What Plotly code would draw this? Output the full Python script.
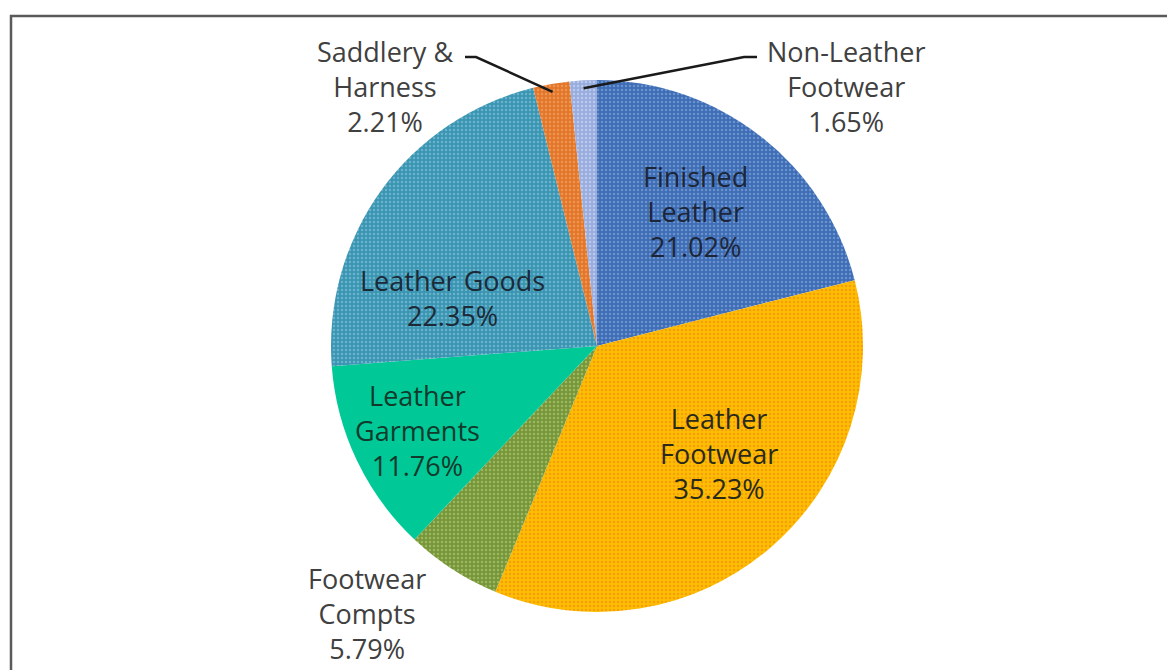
import math
import plotly.graph_objects as go

# Export share by product category (%), clockwise from 12 o'clock
categories = ["Finished Leather", "Leather Footwear", "Footwear Compts",
              "Leather Garments", "Leather Goods", "Saddlery & Harness",
              "Non-Leather Footwear"]
shares = [21.02, 35.23, 5.79, 11.76, 22.35, 2.21, 1.65]
label_lines = [["Finished", "Leather"], ["Leather", "Footwear"], ["Footwear", "Compts"],
               ["Leather", "Garments"], ["Leather Goods"], ["Saddlery &", "Harness"],
               ["Non-Leather", "Footwear"]]

colors = ["#3F6DB5", "#FDBE00", "#76963A", "#00C997", "#3A95B2", "#E2762A", "#98ACDD"]
dot_colors = ["#6F98D2", "#F39A10", "#A2BC62", "#00C997", "#6FB6CF", "#F09A55", "#C0CDEE"]
dot_shapes = [".", ".", ".", "", ".", ".", "."]

W, H = 1167, 670
CX, CY, R = 597, 346, 266  # pie centre and radius in pixels

# label centres (pixels); the two thin top slices get leader lines
label_pos = [(695, 212), (719, 453), (367, 613), (417, 430), (452, 298), (385, 87), (846, 86)]
label_color = ["#1C2638", "#2A2A1A", "#404040", "#123A2C", "#1C2A38", "#404040", "#404040"]
leaders = {5: (465, 57, 476), 6: (757, 57, 744)}  # label-side start x, y, elbow x

fig = go.Figure(go.Pie(
    labels=categories,
    values=shares,
    sort=False,
    direction="clockwise",
    rotation=0,
    textinfo="none",
    hoverinfo="label+percent",
    marker=dict(colors=colors, line=dict(width=0),
                pattern=dict(shape=dot_shapes, bgcolor=colors, fgcolor=dot_colors,
                             fgopacity=0.9, size=4, solidity=0.3)),
    domain=dict(x=[(CX - R) / W, (CX + R) / W], y=[1 - (CY + R) / H, 1 - (CY - R) / H]),
    showlegend=False,
))

annotations = []
shapes = []
total = sum(shares)
cum = 0.0
for i, (cat, v) in enumerate(zip(categories, shares)):
    mid = (cum + v / 2) / total * 2 * math.pi
    cum += v
    lx, ly = label_pos[i]
    text = "<br>".join(label_lines[i] + [f"{v:.2f}%"])
    annotations.append(dict(x=lx / W, y=1 - ly / H, xref="paper", yref="paper",
                            xanchor="center", yanchor="middle",
                            text=text, showarrow=False, align="center",
                            font=dict(family="Open Sans", size=27, color=label_color[i])))
    if i in leaders:
        sx, sy, ex = leaders[i]
        px = CX + (R - 8) * math.sin(mid)
        py = CY - (R - 8) * math.cos(mid)
        pts = [(sx, sy), (ex, sy), (px, py)]
        path = "M " + " L ".join(f"{x / W},{1 - y / H}" for x, y in pts)
        shapes.append(dict(type="path", path=path, xref="paper", yref="paper",
                           line=dict(color="#1A1A1A", width=2.5)))

# chart frame
shapes.append(dict(type="rect", xref="paper", yref="paper",
                   x0=11 / W, x1=1.02, y0=-0.02, y1=1 - 16 / H,
                   line=dict(color="#5A5A5A", width=2.5)))

fig.update_layout(
    width=W, height=H,
    margin=dict(l=0, r=0, t=0, b=0),
    paper_bgcolor="white",
    plot_bgcolor="white",
    annotations=annotations,
    shapes=shapes,
)

fig.write_html("out.html")
